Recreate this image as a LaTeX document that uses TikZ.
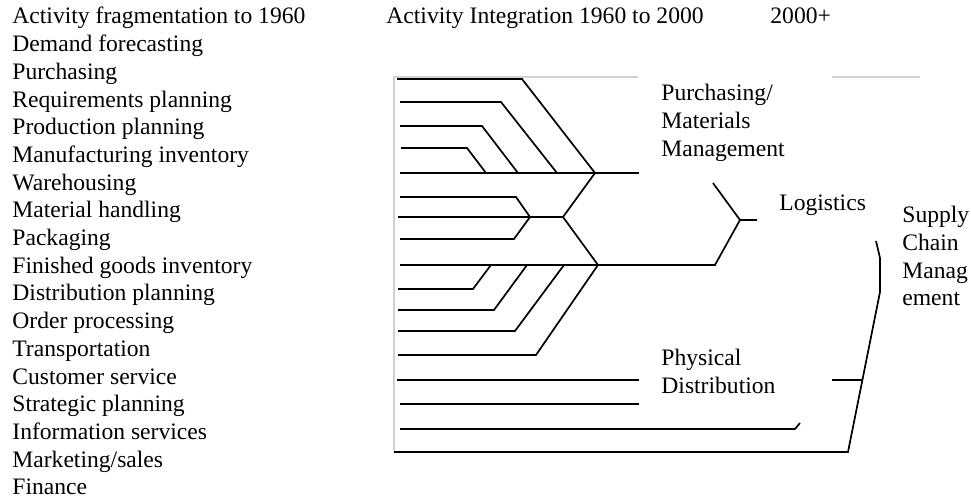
\documentclass[tikz,border=0pt]{standalone}
\usepackage{fontspec}
\setmainfont{Liberation Serif}
\tikzset{listtext/.style={anchor=base west,inner sep=0pt,font=\fontsize{11.8}{13.85}\selectfont},
         groupname/.style={anchor=north west,inner sep=0pt,align=left,font=\fontsize{11.8}{13.85}\selectfont},
         branch/.style={draw,line width=0.85pt,line join=miter},
         frameline/.style={draw=black!18,line width=0.6pt}
         }
\begin{document}
\begin{tikzpicture}[x=0.5pt,y=-0.5pt]
\useasboundingbox (0,0) rectangle (971,501);
% column heads
\node[listtext] (fragment) at (12,24) {Activity fragmentation to 1960};
\node[listtext] (integrate) at (386,24) {Activity Integration 1960 to 2000};
\node[listtext] (future) at (770,24) {2000+};
% activities
\foreach \t [count=\i] in {Demand forecasting,Purchasing,Requirements planning,Production planning,
  Manufacturing inventory,Warehousing,Material handling,Packaging,Finished goods inventory,
  Distribution planning,Order processing,Transportation,Customer service,Strategic planning,
  Information services,Marketing/sales,Finance}
  \node[listtext] (act\i) at (12,{24+\i*27.7}) {\t};
% frame
\draw[frameline] (638,77) -- (394,77) -- (394,452);
\draw[frameline] (832,77) -- (920,77);
% purchasing / materials management
\coordinate (pm) at (595,173);
\draw[branch] (397,79) -- (522,79) -- (pm);
\draw[branch] (400,102) -- (501,102) -- (557,173);
\draw[branch] (400,126) -- (482,126) -- (518,173);
\draw[branch] (401,148) -- (467,148) -- (486,173);
\draw[branch] (400,173) -- (639,173);
% warehousing, handling, packaging
\coordinate (wh) at (530,217);
\coordinate (md) at (563,217);
\coordinate (pd) at (598,265);
\draw[branch] (400,197) -- (516,197) -- (wh) -- (514,239) -- (400,239);
\draw[branch] (398,217) -- (md);
\draw[branch] (pm) -- (md) -- (pd);
% physical distribution
\coordinate (lg) at (740,220);
\draw[branch] (400,265) -- (715,265) -- (lg);
\draw[branch] (398,289) -- (473,289) -- (491,265);
\draw[branch] (398,310) -- (494,310) -- (527,265);
\draw[branch] (398,331) -- (515,331) -- (564,265);
\draw[branch] (398,355) -- (536,355) -- (pd);
\draw[branch] (397,380) -- (639,380);
\draw[branch] (400,404) -- (639,404);
\draw[branch] (400,429) -- (795,429) -- (800,423);
% logistics
\draw[branch] (713,183) -- (lg) -- (757,220);
% supply chain
\coordinate (sc) at (862.5,380);
\draw[branch] (876,241) -- (880,258) -- (880,292) -- (848,452) -- (394,452);
\draw[branch] (832,380) -- (sc);
% group names
\node[groupname] (pmm) at (661,84) {Purchasing/\\Materials\\Management};
\node[groupname] (logi) at (779,194) {Logistics};
\node[groupname] (scm) at (902,206) {Supply\\Chain\\Manag\\ement};
\node[groupname] (phys) at (661,349) {Physical\\Distribution};
\end{tikzpicture}
\end{document}
